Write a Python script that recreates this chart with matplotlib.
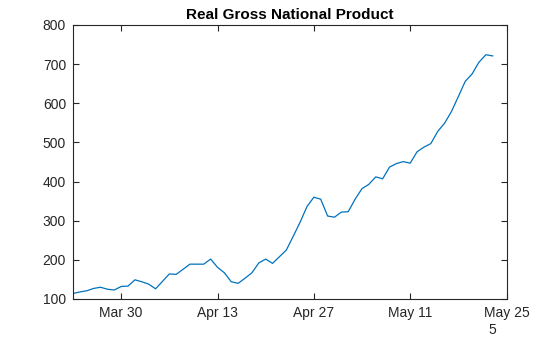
import numpy as np
import pandas as pd
import matplotlib
matplotlib.use("Agg")
import matplotlib.pyplot as plt
import matplotlib.dates as mdates

plt.rcParams['font.family'] = ['Liberation Sans', 'DejaVu Sans']

# daily series, starting Mar 23
start = "2025-03-23"
gnp = [114, 118, 121, 127, 130, 125, 123, 132, 133, 149,
       144, 138, 126, 145, 164, 163, 176, 189, 189, 189,
       202, 181, 167, 144, 140, 153, 167, 192, 202, 191,
       208, 225, 260, 296, 336, 360, 355, 312, 309, 322,
       323, 355, 382, 393, 412, 407, 437, 446, 451, 447,
       476, 488, 497, 528, 549, 579, 617, 656, 675, 705,
       724, 721]
dates = pd.date_range(start, periods=len(gnp), freq="D")

tick_dates = pd.to_datetime(["2025-03-30", "2025-04-13", "2025-04-27",
                             "2025-05-11", "2025-05-25"])
tick_labels = ["Mar 30", "Apr 13", "Apr 27", "May 11", "May 25"]
yticks = [100, 200, 300, 400, 500, 600, 700, 800]

axc = (0.15, 0.15, 0.15)

fig = plt.figure(figsize=(5.6, 3.37), dpi=100)
ax = fig.add_axes([73 / 560, 1 - 299 / 337, (506.5 - 73) / 560, (299 - 25) / 337])
ax.plot(dates, gnp, color="#0072BD", lw=0.9)

ax.set_xlim(pd.Timestamp("2025-03-23"), pd.Timestamp("2025-05-25"))
ax.set_ylim(100, 800)
ax.set_xticks(tick_dates)
ax.set_xticklabels(tick_labels)
ax.set_yticks(yticks)

for s in ax.spines.values():
    s.set_color(axc)
    s.set_linewidth(0.8)
ax.tick_params(direction="in", length=4, width=0.8, colors=axc,
               labelsize=10, top=True, right=True, pad=5)
ax.tick_params(axis="x", pad=5)
for lbl in ax.get_xticklabels() + ax.get_yticklabels():
    lbl.set_color(axc)

ax.set_title("Real Gross National Product", fontsize=11, fontweight="bold",
             color="black", pad=4)
fig.text(488 / 560, 1 - 330 / 337, "5", fontsize=10, color=axc,
         ha="left", va="center")

fig.savefig("out.png", dpi=100)
